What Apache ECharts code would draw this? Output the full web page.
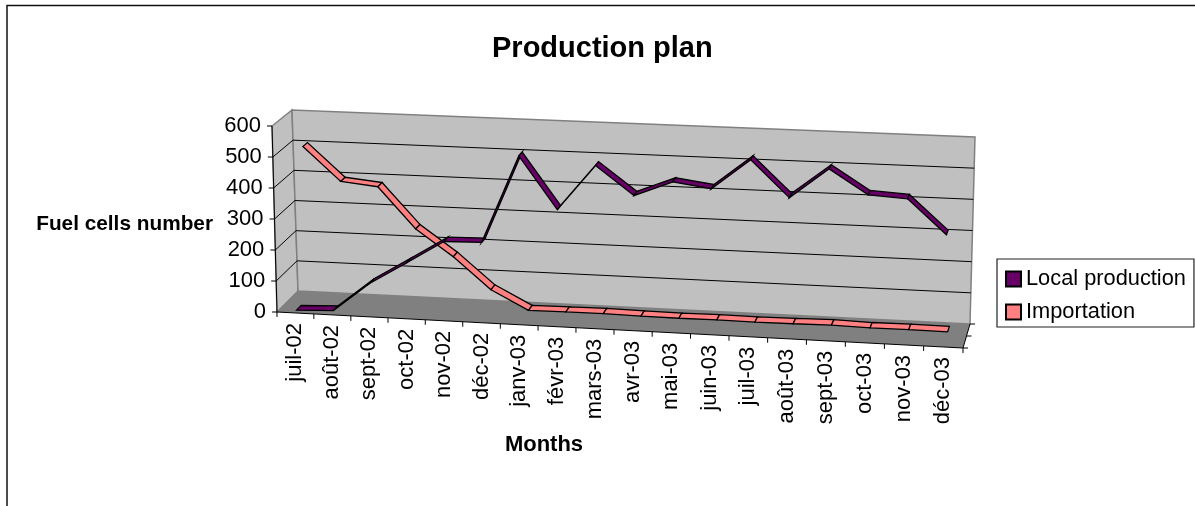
<!DOCTYPE html>
<html>
<head>
<meta charset="utf-8">
<style>html,body{margin:0;padding:0;background:#fff}#chart{width:1195px;height:506px}</style>
<script src="https://cdn.jsdelivr.net/npm/echarts@6/dist/echarts.min.js"></script>
</head>
<body>
<div id="chart"></div>
<script>
// Monthly plan for fuel cell supply
const months = ['juil-02','août-02','sept-02','oct-02','nov-02','déc-02','janv-03','févr-03','mars-03','avr-03','mai-03','juin-03','juil-03','août-03','sept-03','oct-03','nov-03','déc-03'];
const localProduction = [5,10,104,176,250,253,535,369,515,425,474,458,555,441,537,461,454,347];
const importation = [505,396,384,252,167,66,5,6,7,5,4,5,4,5,7,4,5,4];
const valueTicks = [0,100,200,300,400,500,600];
const depthTicks = [0,0.5,1];

const FONT = '"Liberation Sans", Arial, sans-serif';
const LEFT = 277, RIGHT_EDGE = 963, TOP = 126, BOTTOM = 312;

// Corners of the oblique box: front face and back wall, as [bottom-left, top-left, bottom-right, top-right]
const frontFace = [[277,312],[272,126],[963,348],[968,156]];
const backWall = [[298,291],[292,110],[970,324],[975,137]];

const mix = (a, b, t) => a + (b - a) * t;
function faceAt(f, u, v) {
  const x0 = mix(f[0][0], f[1][0], v), y0 = mix(f[0][1], f[1][1], v);
  const x1 = mix(f[2][0], f[3][0], v), y1 = mix(f[2][1], f[3][1], v);
  return [mix(x0, x1, u), mix(y0, y1, u)];
}
// Sends a flat grid pixel onto the oblique box at depth d (0 front, 1 back)
function project(px, py, d) {
  let u = (px - LEFT) / (RIGHT_EDGE - LEFT);
  const v = (BOTTOM - py) / (BOTTOM - TOP);
  u = u + 0.035 * u * (u - 1);
  const a = faceAt(frontFace, u, v), b = faceAt(backWall, u, v);
  return [mix(a[0], b[0], d), mix(a[1], b[1], d)];
}
const polygon = (points, fill, stroke, lineWidth) => ({
  type: 'polygon', shape: { points },
  style: { fill, stroke: stroke || 'none', lineWidth: lineWidth || 0, lineJoin: 'miter' }
});
const line = (a, b, stroke, lineWidth) => ({
  type: 'line', shape: { x1: a[0], y1: a[1], x2: b[0], y2: b[1] },
  style: { stroke, lineWidth: lineWidth || 1 }
});

// Walls, floor, gridlines and ticks of the box
function renderBox(params, api) {
  const band = api.size([1, 0])[0];
  const at = (slot, value, d) => {
    const c = api.coord([0, value]);
    return project(c[0] - band / 2 + slot * band, c[1], d);
  };
  const n = months.length, top = valueTicks[valueTicks.length - 1];
  const kids = [
    polygon([at(0,0,0), at(0,0,1), at(n,0,1), at(n,0,0)], '#808080'),
    polygon([at(0,0,0), at(0,top,0), at(0,top,1), at(0,0,1)], '#C0C0C0', '#808080', 1.5),
    polygon([at(0,0,1), at(0,top,1), at(n,top,1), at(n,0,1)], '#C0C0C0', '#808080', 1.5)
  ];
  valueTicks.forEach(v => {
    if (v > 0 && v < top) {
      kids.push(line(at(0,v,0), at(0,v,1), '#000'));
      kids.push(line(at(0,v,1), at(n,v,1), '#000'));
    }
    const p = at(0,v,0);
    kids.push(line([p[0] - 5, p[1]], p, '#000'));
  });
  kids.push(line(at(0,0,0), at(0,top,0), '#000'));
  kids.push(line(at(0,0,0), at(n,0,0), '#000', 1.2));
  kids.push(line(at(n,0,0), at(n,0,1), '#000'));
  for (let i = 0; i <= n; i++) {
    const p = at(i,0,0);
    kids.push(line(p, [p[0], p[1] + 5], '#000'));
  }
  depthTicks.forEach(d => {
    const p = at(n,0,d);
    kids.push(line(p, [p[0] + 5, p[1]], '#000'));
  });
  return { type: 'group', children: kids };
}

// Month names hang under the sloping front edge
function renderMonthLabel(params, api) {
  const c = api.coord([api.value(0), 0]);
  const p = project(c[0], c[1], 0);
  return {
    type: 'text', x: p[0], y: p[1] + 10, rotation: Math.PI / 2,
    style: { text: months[params.dataIndex], font: '22px ' + FONT, fill: '#000', align: 'right', verticalAlign: 'middle' }
  };
}

// One ribbon segment of a series lying at a fixed depth in the box
function ribbon(values, depth, width, color) {
  return function (params, api) {
    const i = params.dataIndex;
    if (i >= values.length - 1) return null;
    const a = api.coord([i, values[i]]), b = api.coord([i + 1, values[i + 1]]);
    return polygon([
      project(a[0], a[1], depth), project(b[0], b[1], depth),
      project(b[0], b[1], depth + width), project(a[0], a[1], depth + width)
    ], color, '#000', 1.3);
  };
}

// Value labels follow the slight lean of the front edge
const valueLabelRich = {};
valueTicks.forEach(v => {
  valueLabelRich['t' + v] = { fontFamily: FONT, fontSize: 22, color: '#000', padding: [0, v / 120, 0, 0] };
});

const chart = echarts.init(document.getElementById('chart'));
chart.setOption({
  animation: false,
  backgroundColor: '#fff',
  graphic: [{ type: 'rect', shape: { x: 7, y: 5.5, width: 1300, height: 600 }, style: { fill: 'none', stroke: '#111', lineWidth: 1.5 }, silent: true }],
  title: { text: 'Production plan', left: 492, top: 34, padding: 0, textStyle: { fontFamily: FONT, fontWeight: 'bold', fontSize: 29, color: '#000' } },
  legend: {
    data: ['Local production', 'Importation'], orient: 'vertical', left: 997, top: 259,
    padding: [9, 8, 4, 8], itemGap: 11, itemWidth: 15, itemHeight: 15, icon: 'rect',
    borderColor: '#222', borderWidth: 1.2, backgroundColor: '#fff',
    textStyle: { fontFamily: FONT, fontSize: 21.8, color: '#000' }
  },
  grid: { left: LEFT, right: 1195 - RIGHT_EDGE, top: TOP, height: BOTTOM - TOP },
  xAxis: {
    type: 'category', data: months,
    axisLine: { show: false }, axisTick: { show: false }, axisLabel: { show: false }, splitLine: { show: false },
    name: 'Months', nameLocation: 'middle', nameGap: 122,
    nameTextStyle: { fontFamily: FONT, fontWeight: 'bold', fontSize: 22, color: '#000', padding: [0, 152, 0, 0] }
  },
  yAxis: {
    type: 'value', min: 0, max: 600, interval: 100,
    axisLine: { show: false }, axisTick: { show: false }, splitLine: { show: false },
    axisLabel: { margin: 11, fontFamily: FONT, fontSize: 22, color: '#000', formatter: v => '{t' + v + '|' + v + '}', rich: valueLabelRich },
    name: 'Fuel cells number', nameLocation: 'middle', nameRotate: 0, nameGap: 64,
    nameTextStyle: { fontFamily: FONT, fontWeight: 'bold', fontSize: 20.8, color: '#000', verticalAlign: 'top', lineHeight: 10 }
  },
  series: [
    { type: 'custom', silent: true, clip: false, z: 1, data: [0], encode: { x: 0 }, renderItem: renderBox },
    { type: 'custom', silent: true, clip: false, z: 1, data: months.map((m, i) => [i]), encode: { x: 0 }, renderItem: renderMonthLabel },
    { type: 'custom', name: 'Importation', clip: false, z: 2, itemStyle: { color: '#FF8080', borderColor: '#000', borderWidth: 1 },
      data: importation.map((v, i) => [i, v]), encode: { x: 0, y: 1 }, renderItem: ribbon(importation, 0.58, 0.23, '#FF8080') },
    { type: 'custom', name: 'Local production', clip: false, z: 3, itemStyle: { color: '#660066', borderColor: '#000', borderWidth: 1 },
      data: localProduction.map((v, i) => [i, v]), encode: { x: 0, y: 1 }, renderItem: ribbon(localProduction, 0.06, 0.22, '#660066') }
  ]
});
</script>
</body>
</html>
